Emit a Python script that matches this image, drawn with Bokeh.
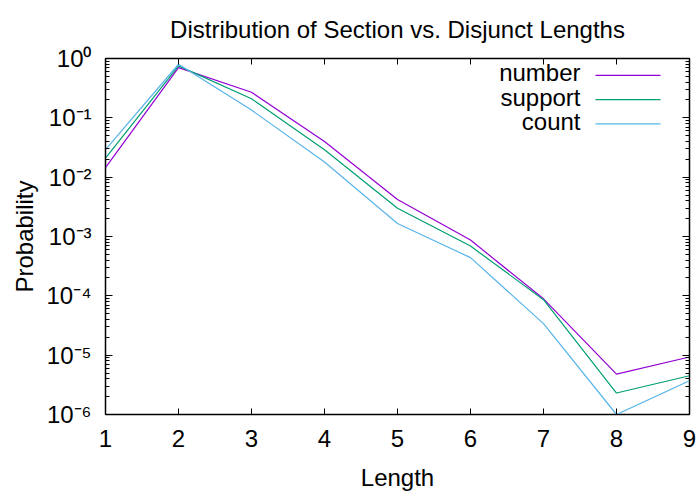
from bokeh.plotting import figure
from bokeh.models import (LogAxis, LinearAxis, FixedTicker, Label, Range1d, LinearScale)
from bokeh.embed import file_html
from bokeh.resources import INLINE

lengths = [1, 2, 3, 4, 5, 6, 7, 8, 9]
number = [0.0145, 0.70, 0.27, 0.040, 0.0042, 0.00087, 8.9e-5, 4.8e-6, 9.3e-6]
support = [0.021, 0.75, 0.21, 0.029, 0.0030, 0.00069, 8.6e-5, 2.3e-6, 4.5e-6]
count = [0.029, 0.80, 0.135, 0.018, 0.00166, 0.00044, 3.4e-5, 1.0e-6, 3.7e-6]
series_names = ["number", "support", "count"]
colors = ["#9400D3", "#009E73", "#56B4E9"]
x_ticks = [1, 2, 3, 4, 5, 6, 7, 8, 9]
y_ticks = [1e-6, 1e-5, 1e-4, 1e-3, 1e-2, 1e-1, 1e0]
y_labels = ["10⁻⁶", "10⁻⁵", "10⁻⁴", "10⁻³", "10⁻²", "10⁻¹", "10⁰"]
y_minor = [m * 10.0 ** e for e in range(-6, 0) for m in range(2, 10)]
title_text = "Distribution of Section vs. Disjunct Lengths"

FONT = "Liberation Sans"
FS = "24px"
W, H = 699, 493
BL, BR, BT, BB = 105, 10, 58, 76
FW, FH = W - BL - BR, H - BT - BB

p = figure(width=W, height=H, output_backend="svg", toolbar_location=None,
           y_axis_type="log", x_range=Range1d(1, 9), y_range=Range1d(1e-6, 1),
           min_border_left=BL, min_border_right=BR, min_border_top=BT,
           min_border_bottom=BB)
p.title.text = title_text
p.title.align = "center"
p.title.vertical_align = "top"
p.title.text_font = FONT
p.title.text_font_size = FS
p.title.text_font_style = "normal"
p.title.text_color = "black"
p.title.standoff = 28
p.grid.visible = False
p.outline_line_color = "black"
p.outline_line_width = 1.5
p.background_fill_color = "white"
p.border_fill_color = "white"

# pixel-like helper ranges for the key samples
p.extra_x_ranges = {"key": Range1d(0, FW)}
p.extra_y_ranges = {"key": Range1d(0, FH)}
p.extra_x_scales = {"key": LinearScale()}
p.extra_y_scales = {"key": LinearScale()}

for vals, name, c in zip([number, support, count], series_names, colors):
    p.line(lengths, vals, line_color=c, line_width=1.2)

xa = p.xaxis[0]
xa.ticker = FixedTicker(ticks=x_ticks)
xa.major_tick_in = 6
xa.major_tick_out = 0
xa.minor_tick_line_color = None
xa.axis_label = "Length"
xa.axis_label_text_font = FONT
xa.axis_label_text_font_size = FS
xa.axis_label_text_font_style = "normal"
xa.axis_label_text_color = "black"
xa.major_label_text_font = FONT
xa.major_label_text_font_size = FS
xa.major_label_text_color = "black"
xa.major_label_standoff = 15
xa.axis_label_standoff = 14
xa.axis_line_color = "black"
xa.major_tick_line_color = "black"

ya = p.yaxis[0]
ya.ticker = FixedTicker(ticks=y_ticks, minor_ticks=y_minor)
ya.major_label_overrides = {t: l for t, l in zip(y_ticks, y_labels)}
ya.major_tick_in = 7
ya.major_tick_out = 0
ya.minor_tick_in = 4
ya.minor_tick_out = 0
ya.axis_label = "Probability"
ya.axis_label_text_font = FONT
ya.axis_label_text_font_size = FS
ya.axis_label_text_font_style = "normal"
ya.axis_label_text_color = "black"
ya.major_label_text_font = FONT
ya.major_label_text_font_size = FS
ya.major_label_text_color = "black"
ya.major_label_standoff = 14
ya.axis_label_standoff = 5
ya.axis_line_color = "black"
ya.major_tick_line_color = "black"
ya.minor_tick_line_color = "black"

top = LinearAxis(ticker=FixedTicker(ticks=x_ticks), major_tick_in=6, major_tick_out=0,
                 minor_tick_line_color=None, major_label_text_color=None,
                 major_label_overrides={t: "" for t in x_ticks},
                 major_label_standoff=0, major_tick_line_color="black")
p.add_layout(top, "above")
right = LogAxis(ticker=FixedTicker(ticks=y_ticks, minor_ticks=y_minor),
                major_tick_in=7, major_tick_out=0, minor_tick_in=4, minor_tick_out=0,
                major_label_text_color=None,
                major_label_overrides={t: "" for t in y_ticks},
                major_label_standoff=0, major_tick_line_color="black",
                minor_tick_line_color="black")
p.add_layout(right, "right")

# gnuplot-style key: text right-aligned, then a line sample
key_y = [FH - 17 - i * 24.5 for i in range(len(series_names))]
for name, c, ys in zip(series_names, colors, key_y):
    p.add_layout(Label(x=475, y=ys, x_units="screen", y_units="screen", text=name,
                       text_align="right", text_baseline="middle", text_font=FONT,
                       text_font_size=FS, text_color="black"))
p.segment(x0=[490] * 3, x1=[555] * 3, y0=key_y, y1=key_y, line_color=colors,
          line_width=1.2, x_range_name="key", y_range_name="key")

open("out.html", "w").write(file_html(p, INLINE))
